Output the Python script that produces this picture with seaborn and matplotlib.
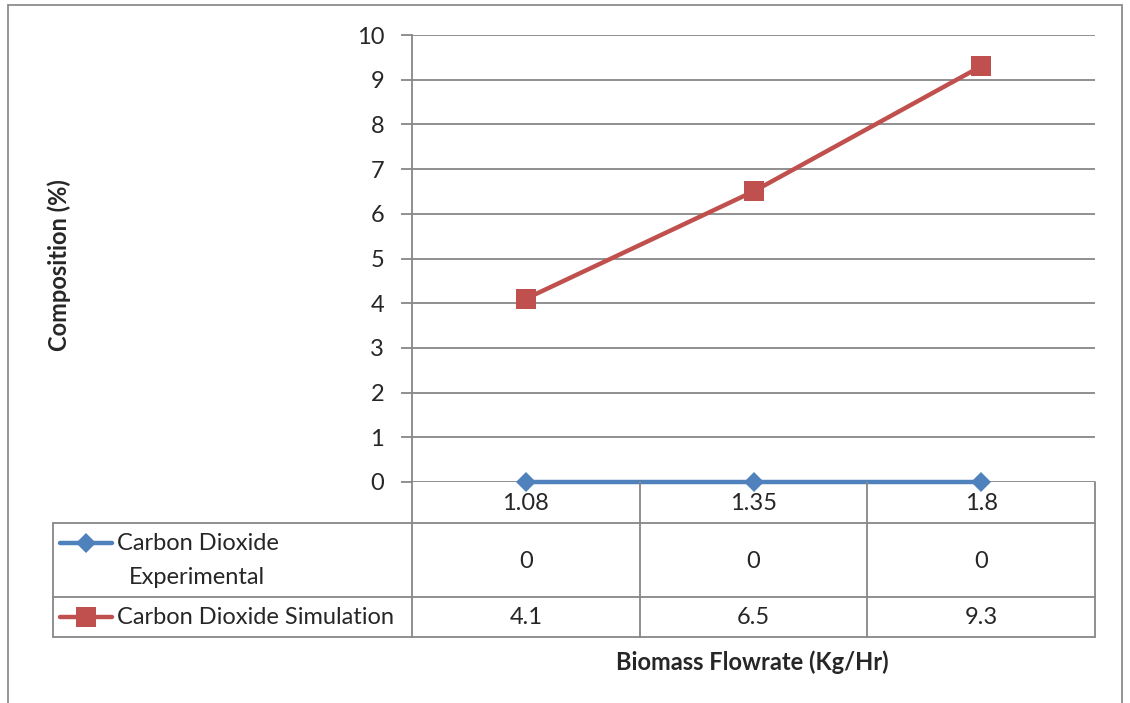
import matplotlib
matplotlib.use("Agg")
import matplotlib.pyplot as plt
import seaborn as sns
import pandas as pd
from matplotlib.lines import Line2D
from matplotlib.patches import Rectangle

categories = ["1.08", "1.35", "1.8"]
experimental = [0, 0, 0]
simulation = [4.1, 6.5, 9.3]
series_names = ["Carbon Dioxide\nExperimental", "Carbon Dioxide Simulation"]
table_texts = [["0", "0", "0"], ["4.1", "6.5", "9.3"]]
y_ticks = list(range(0, 11))

sns.set_theme(style="white")
plt.rcParams['font.family'] = ['Lato', 'DejaVu Sans']

FS = 17
W, H = 1130, 703
fig = plt.figure(figsize=(W / 100, H / 100), dpi=100)

def fx(px):
    return px / W

def fy(py):
    return 1 - py / H

ax_l, ax_r, ax_t, ax_b = 412, 1095, 35, 482
ax = fig.add_axes([fx(ax_l), fy(ax_b), fx(ax_r) - fx(ax_l), fy(ax_t) - fy(ax_b)])

blue = "#4F81BD"
red = "#C0504D"
grid_c = "#878787"

df = pd.DataFrame({
    "x": list(range(len(categories))) * 2,
    "y": experimental + simulation,
    "s": ["exp"] * 3 + ["sim"] * 3,
})
sns.lineplot(data=df[df.s == "exp"], x="x", y="y", ax=ax, color=blue, lw=3.2,
             marker="D", markersize=10, markeredgewidth=0, zorder=5, clip_on=False)
sns.lineplot(data=df[df.s == "sim"], x="x", y="y", ax=ax, color=red, lw=3.2,
             marker="s", markersize=14, markeredgewidth=0, zorder=5, clip_on=False)

ax.set_xlim(-0.5, len(categories) - 0.5)
ax.set_ylim(0, 10)
ax.set_yticks(y_ticks)
ax.set_yticklabels([str(t) for t in y_ticks], fontsize=FS)
ax.set_xticks([])
ax.set_xlabel("")
ax.set_ylabel("")
for y in y_ticks[1:]:
    ax.axhline(y, color=grid_c, lw=1.3, zorder=1)
for side in ["top", "right", "bottom"]:
    ax.spines[side].set_visible(False)
ax.spines["left"].set_color(grid_c)
ax.spines["left"].set_linewidth(1.3)
ax.tick_params(axis="y", length=8, width=1.3, color=grid_c, direction="out", pad=12, left=True)
ax.axhline(0, color=grid_c, lw=1.3, zorder=1)

# Data table
col_edges = [ax_l + i * (ax_r - ax_l) / len(categories) for i in range(len(categories) + 1)]
row_edges = [482, 523, 597, 637]
tab_left = 53
lc = grid_c
lw = 1.3
def hline(y, x0, x1):
    fig.add_artist(Line2D([fx(x0), fx(x1)], [fy(y), fy(y)], color=lc, lw=lw))
def vline(x, y0, y1):
    fig.add_artist(Line2D([fx(x), fx(x)], [fy(y0), fy(y1)], color=lc, lw=lw))

hline(row_edges[1], tab_left, ax_r)
hline(row_edges[2], tab_left, ax_r)
hline(row_edges[3], tab_left, ax_r)
vline(tab_left, row_edges[1], row_edges[3])
for x in col_edges:
    vline(x, row_edges[0], row_edges[3])

for i, c in enumerate(categories):
    cx = (col_edges[i] + col_edges[i + 1]) / 2
    fig.text(fx(cx), fy((row_edges[0] + row_edges[1]) / 2 + 1), c, ha="center", va="center", fontsize=FS)
    for r in range(2):
        cy = (row_edges[r + 1] + row_edges[r + 2]) / 2 + 1
        fig.text(fx(cx), fy(cy), table_texts[r][i], ha="center", va="center", fontsize=FS)

# legend keys in table
keys = [(blue, "D", 10), (red, "s", 14)]
key_y = [543, 617]
for (col, mk, ms), ky in zip(keys, key_y):
    fig.add_artist(Line2D([fx(60), fx(112)], [fy(ky), fy(ky)], color=col, lw=3.2))
    fig.add_artist(Line2D([fx(86)], [fy(ky)], color=col, marker=mk, markersize=ms, markeredgewidth=0))
fig.text(fx(117), fy(544), "Carbon Dioxide", ha="left", va="center", fontsize=FS)
fig.text(fx(129), fy(577), "Experimental", ha="left", va="center", fontsize=FS)
fig.text(fx(117), fy(617), series_names[1], ha="left", va="center", fontsize=FS)

# axis titles
fig.text(fx(59), fy(265), "Composition (%)", rotation=90, ha="center", va="center",
         fontsize=FS, fontweight="bold")
fig.text(fx(752), fy(662), "Biomass Flowrate (Kg/Hr)", ha="center", va="center",
         fontsize=FS, fontweight="bold")

# outer border
fig.add_artist(Rectangle((fx(8), fy(720)), fx(1122) - fx(8), fy(5) - fy(720),
                         fill=False, edgecolor="#8c8c8c", lw=1.3))

fig.savefig("out.png", dpi=100)
